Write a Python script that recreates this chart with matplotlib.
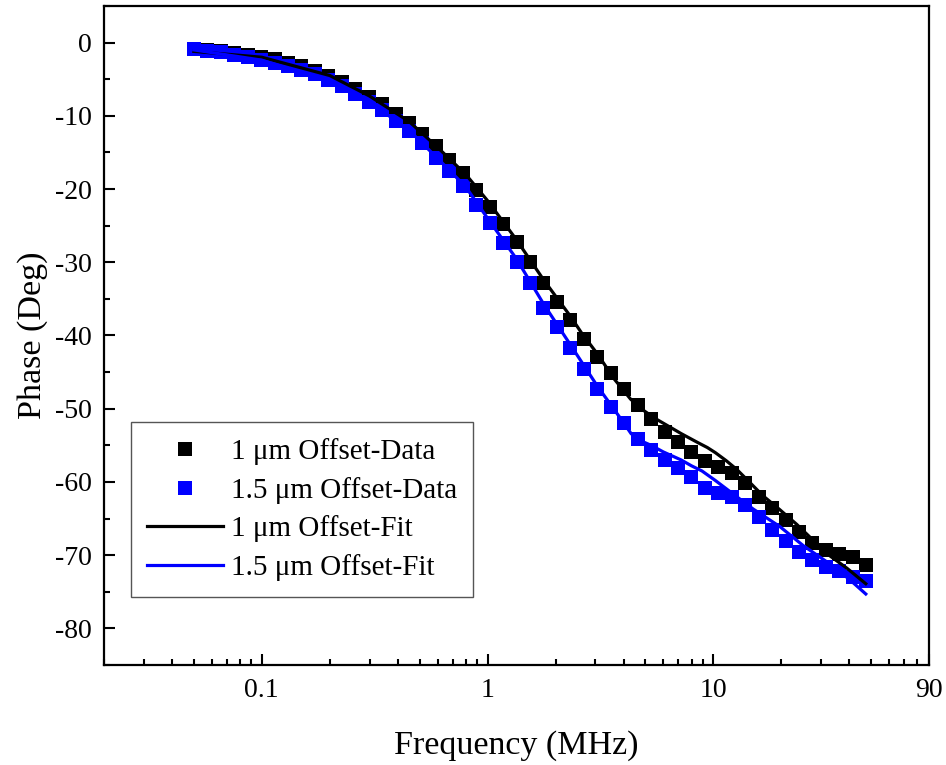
import matplotlib
matplotlib.use("Agg")
import matplotlib.pyplot as plt
from matplotlib.ticker import FixedLocator, LogLocator, NullFormatter, MultipleLocator

plt.rcParams['font.family'] = ['Liberation Serif', 'DejaVu Serif']
plt.rcParams['axes.unicode_minus'] = False

# ---------------- data ----------------
freq = [0.0500, 0.0573, 0.0658, 0.0754, 0.0865, 0.0993, 0.1139, 0.1306, 0.1498, 0.1718,
        0.1970, 0.2259, 0.2592, 0.2972, 0.3409, 0.3911, 0.4485, 0.5144, 0.5902, 0.6767,
        0.7763, 0.8905, 1.0214, 1.1716, 1.3438, 1.5416, 1.7678, 2.0277, 2.3256, 2.6679,
        3.0597, 3.5099, 4.0253, 4.6174, 5.2966, 6.0743, 6.9663, 7.9900, 9.1640, 10.510,
        12.056, 13.824, 15.859, 18.190, 20.862, 23.933, 27.448, 31.483, 36.111, 41.415,
        47.500]

phase_1um = [-0.86, -1.0, -1.14, -1.37, -1.68, -2.0, -2.28, -2.73, -3.19, -3.83,
             -4.5, -5.33, -6.3, -7.4, -8.4, -9.7, -11.0, -12.5, -14.1, -16.0,
             -17.8, -20.1, -22.4, -24.8, -27.3, -29.9, -32.8, -35.4, -37.9, -40.5,
             -42.9, -45.1, -47.3, -49.5, -51.4, -53.2, -54.5, -55.9, -57.2, -57.9,
             -58.8, -60.2, -62.0, -63.6, -65.2, -66.8, -68.4, -69.3, -69.8, -70.25,
             -71.4]

phase_15um = [-0.9, -1.14, -1.27, -1.68, -1.96, -2.37, -2.73, -3.19, -3.78, -4.33,
              -5.1, -5.9, -7.0, -8.07, -9.2, -10.7, -12.1, -13.7, -15.8, -17.6,
              -19.65, -22.15, -24.65, -27.4, -29.9, -32.9, -36.2, -38.9, -41.75, -44.6,
              -47.3, -49.7, -52.0, -54.2, -55.6, -57.0, -58.1, -59.3, -60.8, -61.5,
              -62.0, -63.2, -64.8, -66.5, -68.0, -69.6, -70.7, -71.6, -72.1, -73.0,
              -73.5]

fit_freq_1um = [0.05, 0.1, 0.2, 0.3, 0.45, 0.6, 0.8, 1.0, 1.34, 1.77, 2.33, 2.6, 3.06,
                3.65, 4.3, 4.94, 5.5, 6.5, 7.2, 8.5, 9.4, 10.2, 11.4, 12.7, 14.1, 16.6,
                19.7, 23.4, 27.1, 31.5, 39.1, 47.3]
fit_1um = [-1.2, -2.0, -4.5, -7.3, -10.8, -14.3, -18.0, -21.6, -26.9, -32.4, -37.4,
           -39.6, -42.5, -46.0, -48.7, -50.3, -51.3, -52.6, -53.4, -54.6, -55.3, -56.0,
           -57.1, -58.3, -59.7, -61.9, -63.8, -65.8, -67.7, -69.7, -71.8, -73.9]

fit_freq_15um = [0.05, 0.1, 0.2, 0.3, 0.45, 0.6, 0.8, 1.0, 1.34, 1.77, 2.33, 3.06, 3.5,
                 4.0, 4.32, 4.7, 5.3, 6.0, 7.2, 8.0, 8.9, 10.2, 12.3, 15.0, 19.7, 25.0,
                 32.8, 40.0, 47.3]
fit_15um = [-1.0, -2.4, -5.3, -8.1, -12.0, -15.8, -19.7, -24.0, -29.5, -35.7, -41.3,
            -46.9, -49.4, -51.9, -53.4, -54.3, -55.0, -55.9, -57.0, -57.8, -58.5, -59.8,
            -61.7, -63.7, -66.1, -68.7, -71.2, -73.3, -75.3]

labels = ["1 \u03bcm Offset-Data", "1.5 \u03bcm Offset-Data",
          "1 \u03bcm Offset-Fit", "1.5 \u03bcm Offset-Fit"]
xticks = [0.1, 1, 10, 90]
xticklabels = ["0.1", "1", "10", "90"]
yticks = [0, -10, -20, -30, -40, -50, -60, -70, -80]
yticklabels = ["0", "-10", "-20", "-30", "-40", "-50", "-60", "-70", "-80"]

# ---------------- plot ----------------
fig = plt.figure(figsize=(9.46, 7.65), dpi=100)
ax = fig.add_axes([0.1099, 0.1307, 0.872, 0.8615])

h1, = ax.plot(freq, phase_1um, 's', color='black', markersize=10.3, markeredgewidth=0, zorder=2)
h2, = ax.plot(freq, phase_15um, 's', color='#0000ff', markersize=10.3, markeredgewidth=0, zorder=3)
h3, = ax.plot(fit_freq_1um, fit_1um, '-', color='black', linewidth=2.3, zorder=4)
h4, = ax.plot(fit_freq_15um, fit_15um, '-', color='#0000ff', linewidth=2.3, zorder=5)

ax.set_xscale('log')
ax.set_xlim(0.02, 90)
ax.set_ylim(-85, 5)

ax.xaxis.set_major_locator(FixedLocator(xticks))
ax.set_xticklabels(xticklabels)
ax.xaxis.set_minor_locator(LogLocator(base=10, subs=[2, 3, 4, 5, 6, 7, 8, 9]))
ax.xaxis.set_minor_formatter(NullFormatter())
ax.set_yticks(yticks)
ax.set_yticklabels(yticklabels)
ax.yaxis.set_minor_locator(MultipleLocator(5))

for s in ax.spines.values():
    s.set_linewidth(1.6)

ax.tick_params(which='both', direction='in', top=False, right=False, width=1.5)
ax.tick_params(which='major', length=8, labelsize=20)
ax.tick_params(which='minor', length=4)
ax.tick_params(axis='y', which='major', pad=9)
ax.tick_params(axis='x', which='major', pad=9)

ax.set_xlabel("Frequency (MHz)", fontsize=24.5, labelpad=20)
ax.set_ylabel("Phase (Deg)", fontsize=24.5, labelpad=5)

leg = ax.legend([h1, h2, h3, h4], labels, loc='lower left',
                bbox_to_anchor=(0.0327, 0.103), borderaxespad=0, fontsize=21,
                handlelength=2.6, handletextpad=0.28, labelspacing=0.4,
                borderpad=0.55, fancybox=False, framealpha=1, edgecolor='#555555',
                markerscale=1.0)
leg.get_frame().set_linewidth(1.0)

fig.savefig("out.png", dpi=100)
